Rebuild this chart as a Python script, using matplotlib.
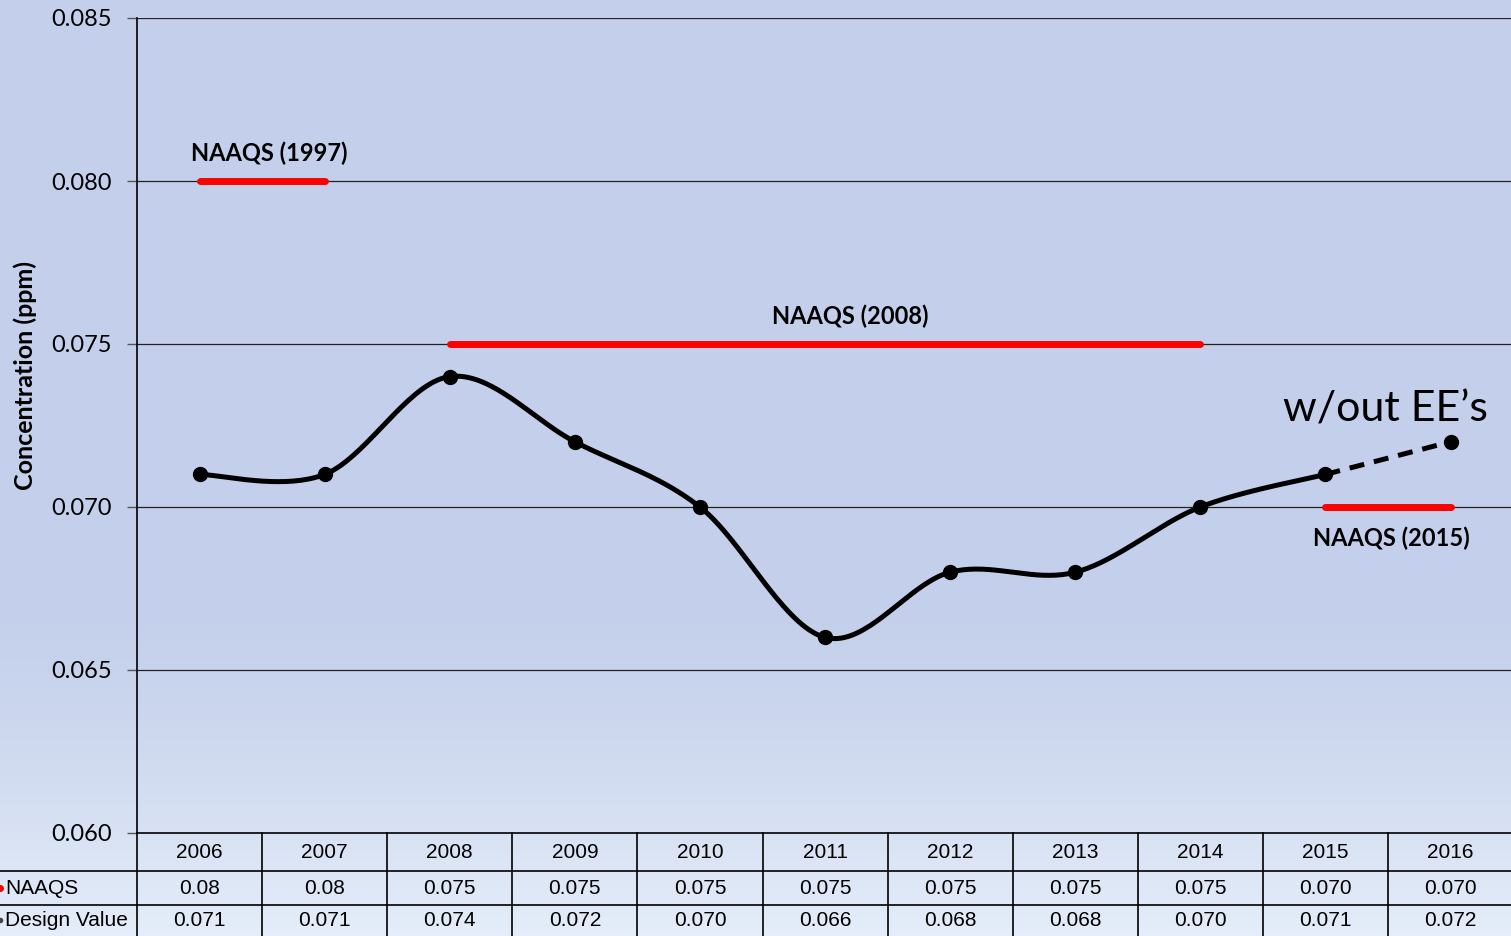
import matplotlib
matplotlib.use("Agg")
import matplotlib.pyplot as plt
import numpy as np

years = ['2006', '2007', '2008', '2009', '2010', '2011', '2012', '2013', '2014', '2015', '2016']
naaqs = [0.080, 0.080, 0.075, 0.075, 0.075, 0.075, 0.075, 0.075, 0.075, 0.070, 0.070]
naaqs_txt = ['0.08', '0.08', '0.075', '0.075', '0.075', '0.075', '0.075', '0.075', '0.075', '0.070', '0.070']
design = [0.071, 0.071, 0.074, 0.072, 0.070, 0.066, 0.068, 0.068, 0.070, 0.071, 0.072]
design_txt = ['0.071', '0.071', '0.074', '0.072', '0.070', '0.066', '0.068', '0.068', '0.070', '0.071', '0.072']
naaqs_labels = ['NAAQS (1997)', 'NAAQS (2008)', 'NAAQS (2015)']
solid_n = 10  # design value drawn solid up to 2015, dashed after

calibri_like = 'Lato'
arial_like = 'Liberation Sans'

fig = plt.figure(figsize=(15.11, 9.36), dpi=100)

# sky background
bg = fig.add_axes([0, 0, 1, 1])
grad = np.linspace(0, 1, 300)
top = np.array([196, 208, 235]) / 255
bot = np.array([228, 237, 249]) / 255
w = np.clip((grad - 0.65) / 0.35, 0, 1) ** 1.3
img = top[None, :] * (1 - w[:, None]) + bot[None, :] * w[:, None]
bg.imshow(img[:, None, :], aspect='auto', extent=[0, 1, 0, 1], origin='upper')
bg.set_xlim(0, 1)
bg.set_ylim(0, 1)
bg.axis('off')

W, H = 1511, 936
col_w = 125.1
ax = fig.add_axes([137 / W, 1 - 833 / H, 11 * col_w / W, (833 - 18) / H])
ax.patch.set_alpha(0)
ax.set_xlim(0, len(years))
ax.set_ylim(0.060, 0.085)
ax.set_yticks([0.060, 0.065, 0.070, 0.075, 0.080, 0.085])
ax.set_yticklabels(['0.060', '0.065', '0.070', '0.075', '0.080', '0.085'],
                   fontsize=17, family=calibri_like)
ax.tick_params(axis='y', length=7, width=1, color='#555555', pad=11)
ax.set_xticks([])
for s in ['top', 'right', 'bottom']:
    ax.spines[s].set_visible(False)
ax.spines['left'].set_linewidth(1.2)
for v in [0.065, 0.070, 0.075, 0.080, 0.085]:
    ax.axhline(v, color='#222222', lw=0.9, zorder=1)

x = np.arange(len(years)) + 0.5

# NAAQS segments
start = 0
for i in range(1, len(naaqs) + 1):
    if i == len(naaqs) or naaqs[i] != naaqs[start]:
        ax.plot(x[start:i], naaqs[start:i], color='#ff0000', lw=5,
                solid_capstyle='round', zorder=3)
        start = i

# smoothed design value curve (Catmull-Rom as Bezier)
def smooth(px, py, n=40):
    P = np.column_stack([px, py])
    P = np.vstack([P[0], P, P[-1]])
    out = []
    for k in range(1, len(P) - 2):
        p0, p1, p2, p3 = P[k - 1], P[k], P[k + 1], P[k + 2]
        c1 = p1 + (p2 - p0) / 6
        c2 = p2 - (p3 - p1) / 6
        t = np.linspace(0, 1, n)[:, None]
        seg = ((1 - t) ** 3) * p1 + 3 * ((1 - t) ** 2) * t * c1 + 3 * (1 - t) * t ** 2 * c2 + t ** 3 * p2
        out.append(seg)
    out = np.vstack(out)
    return out[:, 0], out[:, 1]

sx, sy = smooth(x[:solid_n], design[:solid_n])
ax.plot(sx, sy, color='black', lw=3.6, zorder=4, solid_capstyle='round')
ax.plot(x[solid_n - 1:], design[solid_n - 1:], color='black', lw=3.6,
        ls=(0, (3, 2)), zorder=4)
ax.plot(x, design, 'o', color='black', ms=10, zorder=5)

# labels
ax.text(x[0] + 0.56, 0.0801 + 0.0004, naaqs_labels[0], ha='center', va='bottom',
        fontsize=17, fontweight='bold', family=calibri_like)
ax.text(5.7, 0.0755, naaqs_labels[1], ha='center', va='bottom',
        fontsize=17, fontweight='bold', family=calibri_like)
ax.text(x[9] + 0.53, 0.0694, naaqs_labels[2], ha='center', va='top',
        fontsize=17, fontweight='bold', family=calibri_like)
ax.text(x[9] + 0.48, 0.0730, "w/out EE\u2019s", ha='center', va='center',
        fontsize=31, family=calibri_like)

fig.text(25 / W, 1 - 375 / H, 'Concentration (ppm)', rotation=90, ha='center',
         va='center', fontsize=18, fontweight='bold', family=calibri_like)

# data table
tb = fig.add_axes([0, 0, 1, 1])
tb.set_xlim(0, W)
tb.set_ylim(H, 0)
tb.axis('off')
tb.plot([137, W], [833, 833], color='black', lw=1.2)
tb.plot([0, W], [871, 871], color='black', lw=1.2)
tb.plot([0, W], [905, 905], color='black', lw=1.2)
for j in range(len(years) + 1):
    xx = 137 + j * col_w
    tb.plot([xx, xx], [833, 936], color='black', lw=1.2)
for j in range(len(years)):
    cx = 137 + (j + 0.5) * col_w
    tb.text(cx, 852, years[j], ha='center', va='center', fontsize=15, family=arial_like)
    tb.text(cx, 888, naaqs_txt[j], ha='center', va='center', fontsize=15, family=arial_like)
    tb.text(cx, 920, design_txt[j], ha='center', va='center', fontsize=15, family=arial_like)
tb.plot([0], [888], 'o', color='#ff0000', ms=4)
tb.plot([0], [920], 'o', color='#444444', ms=3)
tb.text(5, 888, 'NAAQS', ha='left', va='center', fontsize=15, family=arial_like)
tb.text(5, 920, 'Design Value', ha='left', va='center', fontsize=15, family=arial_like)

fig.savefig('out.png', dpi=100)
